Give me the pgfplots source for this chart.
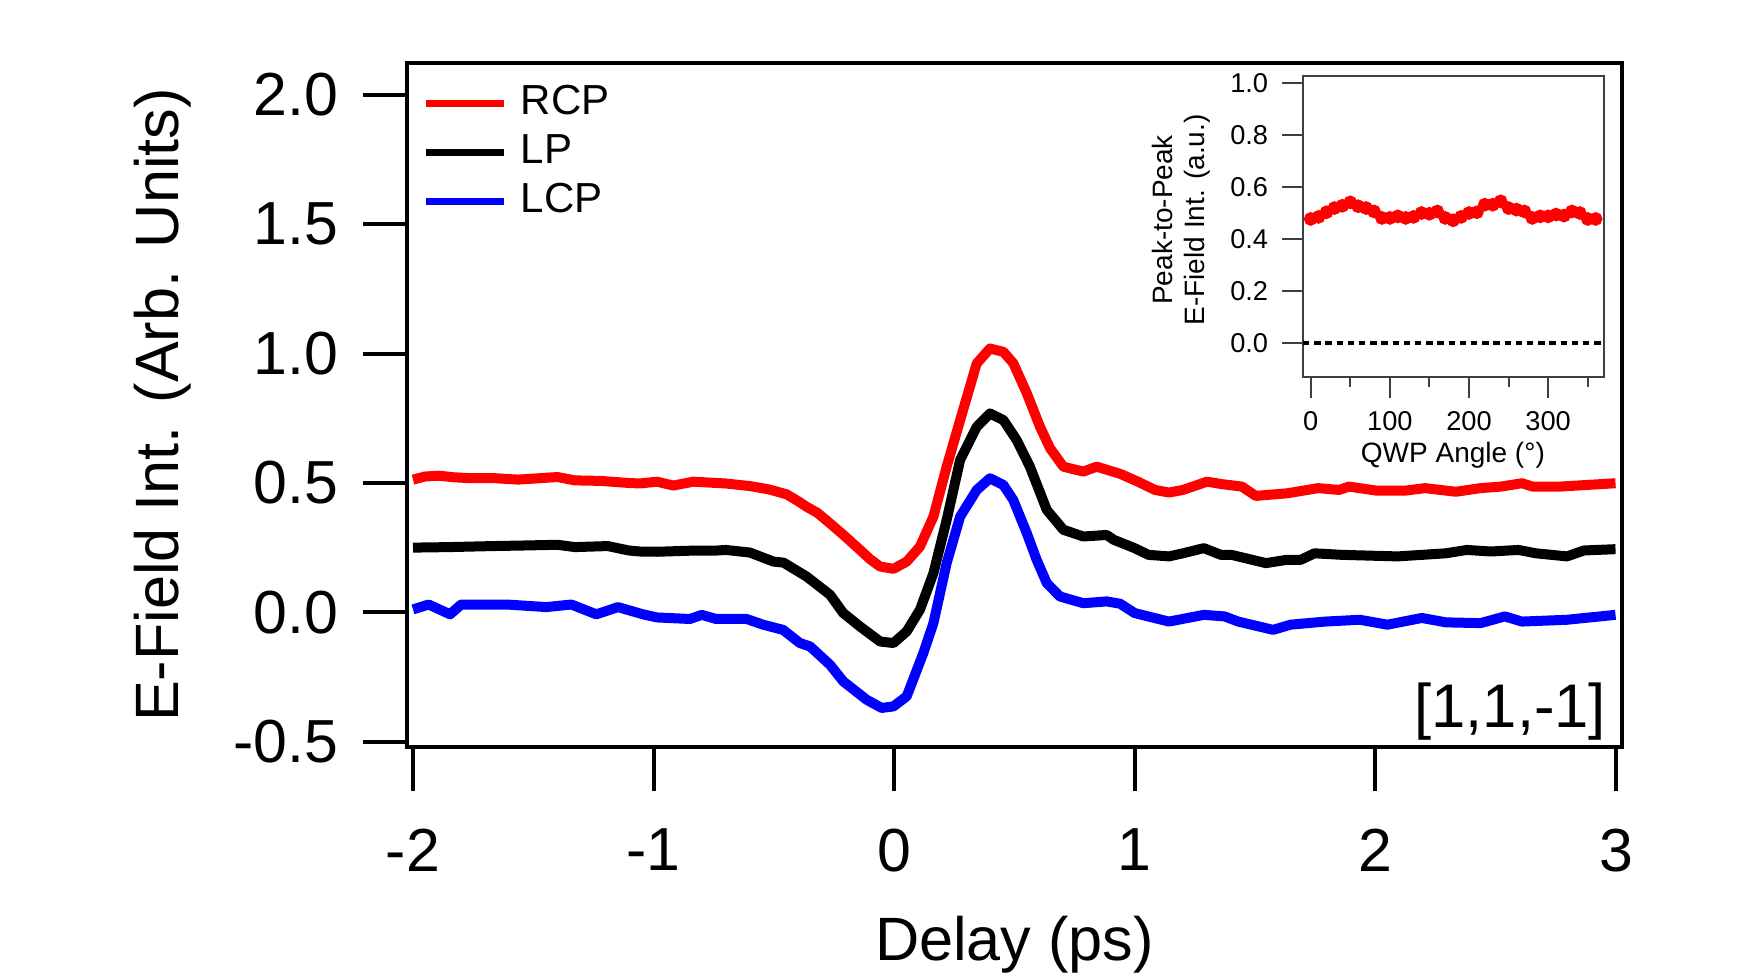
\documentclass[border=0pt]{standalone}
\usepackage{fontspec}
\setmainfont{Liberation Sans}
\usepackage{pgfplots}
\pgfplotsset{compat=1.18}

% 1 px of the reference = 0.25pt
\pgfplotstableread{
x y
-2.000 0.513
-1.950 0.525
-1.892 0.528
-1.830 0.522
-1.772 0.519
-1.668 0.519
-1.600 0.515
-1.564 0.513
-1.480 0.518
-1.400 0.523
-1.327 0.510
-1.220 0.508
-1.104 0.500
-1.057 0.498
-0.986 0.505
-0.918 0.490
-0.835 0.505
-0.700 0.498
-0.600 0.488
-0.520 0.475
-0.447 0.456
-0.400 0.430
-0.364 0.408
-0.320 0.385
-0.267 0.344
-0.200 0.290
-0.142 0.241
-0.100 0.205
-0.059 0.177
-0.003 0.168
0.052 0.196
0.107 0.254
0.163 0.370
0.218 0.563
0.274 0.743
0.343 0.962
0.398 1.020
0.454 1.007
0.495 0.963
0.551 0.847
0.606 0.717
0.648 0.634
0.703 0.563
0.786 0.544
0.842 0.563
0.940 0.535
1.013 0.505
1.084 0.473
1.142 0.463
1.200 0.473
1.300 0.505
1.358 0.496
1.445 0.486
1.503 0.450
1.633 0.460
1.762 0.480
1.849 0.473
1.890 0.486
2.007 0.470
2.121 0.470
2.206 0.480
2.335 0.466
2.437 0.480
2.522 0.486
2.609 0.499
2.653 0.486
2.767 0.486
2.998 0.499
}\rcp

\pgfplotstableread{
x y
-2.000 0.250
-1.850 0.252
-1.668 0.256
-1.550 0.258
-1.400 0.261
-1.327 0.252
-1.190 0.256
-1.104 0.239
-1.057 0.235
-0.986 0.234
-0.850 0.238
-0.750 0.238
-0.700 0.241
-0.600 0.231
-0.502 0.196
-0.460 0.192
-0.364 0.138
-0.267 0.068
-0.212 -0.003
-0.142 -0.055
-0.059 -0.113
-0.003 -0.119
0.052 -0.074
0.107 0.010
0.163 0.151
0.218 0.357
0.274 0.589
0.343 0.717
0.398 0.769
0.454 0.743
0.509 0.666
0.564 0.563
0.634 0.396
0.703 0.319
0.786 0.293
0.883 0.299
0.913 0.280
0.999 0.248
1.057 0.222
1.142 0.216
1.200 0.228
1.287 0.248
1.358 0.222
1.402 0.222
1.545 0.190
1.633 0.203
1.690 0.203
1.747 0.228
1.862 0.222
2.092 0.216
2.293 0.228
2.380 0.241
2.480 0.235
2.595 0.241
2.667 0.228
2.796 0.216
2.867 0.239
2.998 0.244
}\lp

\pgfplotstableread{
x y
-2.000 0.011
-1.935 0.030
-1.846 -0.008
-1.800 0.030
-1.610 0.030
-1.446 0.020
-1.342 0.030
-1.238 -0.008
-1.148 0.020
-1.044 -0.008
-0.986 -0.020
-0.849 -0.026
-0.800 -0.010
-0.740 -0.026
-0.613 -0.026
-0.545 -0.048
-0.462 -0.068
-0.392 -0.119
-0.350 -0.132
-0.267 -0.203
-0.212 -0.267
-0.115 -0.338
-0.052 -0.370
-0.003 -0.364
0.052 -0.325
0.121 -0.158
0.163 -0.042
0.218 0.190
0.274 0.370
0.343 0.473
0.398 0.518
0.454 0.492
0.495 0.434
0.551 0.306
0.592 0.203
0.634 0.113
0.689 0.061
0.786 0.035
0.883 0.042
0.939 0.033
0.999 -0.003
1.142 -0.036
1.287 -0.010
1.373 -0.016
1.430 -0.036
1.575 -0.068
1.647 -0.048
1.791 -0.036
1.935 -0.029
2.050 -0.048
2.193 -0.022
2.293 -0.039
2.437 -0.042
2.538 -0.016
2.609 -0.036
2.796 -0.029
2.998 -0.010
}\lcp

\pgfplotstableread{
a p
0 0.477
10 0.485
20 0.503
30 0.519
40 0.528
50 0.541
60 0.526
70 0.519
80 0.506
90 0.481
100 0.481
110 0.487
120 0.481
130 0.485
140 0.500
150 0.497
160 0.506
170 0.481
180 0.472
190 0.485
200 0.500
210 0.503
220 0.532
230 0.532
240 0.545
250 0.519
260 0.513
270 0.506
280 0.481
290 0.487
300 0.487
310 0.494
320 0.490
330 0.506
340 0.500
350 0.477
360 0.477
}\ptp

\begin{document}
\begin{tikzpicture}
\useasboundingbox (0,0) rectangle (439pt,243.75pt);

\begin{axis}[
    at={(101.75pt,57pt)}, anchor=south west,
    width=303.75pt, height=171pt, scale only axis,
    xmin=-2.025, xmax=3.025, ymin=-0.521, ymax=2.124,
    axis line style={line width=1pt},
    xtick={-2,-1,0,1,2,3}, xticklabels={-2,-1,0,1,2,3},
    ytick={-0.5,0,0.5,1,1.5,2}, yticklabels={-0.5,0.0,0.5,1.0,1.5,2.0},
    tick align=outside, xtick pos=left, ytick pos=left,
    major tick length=11pt,
    tick style={line width=1pt, black},
    ticklabel style={font=\fontsize{15.2}{18}\selectfont},
    xticklabel style={yshift=-6pt},
    yticklabel style={xshift=-2.7pt},
    xlabel={Delay (ps)},
    ylabel={E-Field Int. (Arb. Units)},
    label style={font=\fontsize{15.3}{18}\selectfont},
    xlabel style={at={(axis description cs:0.5,-0.3114)}, anchor=base},
    ylabel style={at={(axis description cs:-0.1877,0.5)}, anchor=base},
    legend style={at={(axis description cs:0.012,0.978)}, anchor=north west,
        draw=none, fill=none, inner sep=0pt, row sep=0pt,
        font=\fontsize{10.5}{12}\selectfont,
        nodes={inner sep=1.2pt, text height=7.6pt, text depth=2.3pt}},
    legend cell align=left,
    legend image code/.code={\draw[#1, line width=1.8pt] (0pt,0pt) -- (19.6pt,0pt);},
]
\addplot[red, line width=2.5pt, line join=round] table {\rcp};
\addplot[black, line width=2.5pt, line join=round] table {\lp};
\addplot[blue, line width=2.5pt, line join=round] table {\lcp};
\legend{\hspace{2pt}RCP, \hspace{2pt}LP, \hspace{2pt}LCP}
\node[anchor=base east, font=\fontsize{15.4}{18}\selectfont] at (axis description cs:0.9985,0.0278) {[1,1,-1]};
\end{axis}

\begin{axis}[
    at={(325.75pt,149.5pt)}, anchor=south west,
    width=75.25pt, height=75.25pt, scale only axis,
    xmin=-9.7, xmax=370.6, ymin=-0.132, ymax=1.028,
    axis line style={line width=0.45pt, black!75},
    xtick={0,100,200,300}, xticklabels={0,100,200,300},
    minor xtick={50,150,250,350},
    ytick={0,0.2,0.4,0.6,0.8,1}, yticklabels={0.0,0.2,0.4,0.6,0.8,1.0},
    tick align=outside, xtick pos=left, ytick pos=left,
    major tick length=5.2pt, minor tick length=2.5pt,
    tick style={line width=0.5pt, black!75},
    ticklabel style={font=\fontsize{6.8}{8}\selectfont},
    xlabel={QWP Angle (°)},
    ylabel={Peak-to-Peak\\E-Field Int. (a.u.)},
    label style={font=\fontsize{7}{8}\selectfont},
    xlabel style={at={(axis description cs:0.498,-0.26)}, anchor=center},
    ylabel style={at={(axis description cs:-0.405,0.522)}, anchor=center, align=center},
]
\addplot[black, line width=0.9pt, dash pattern=on 1.6pt off 1.2pt] coordinates {(-9.7,0) (370.6,0)};
\addplot[red, line width=0.8pt, mark=*, mark size=1.3pt, mark options={solid, fill=red, draw=red}] table {\ptp};
\end{axis}
\end{tikzpicture}
\end{document}
